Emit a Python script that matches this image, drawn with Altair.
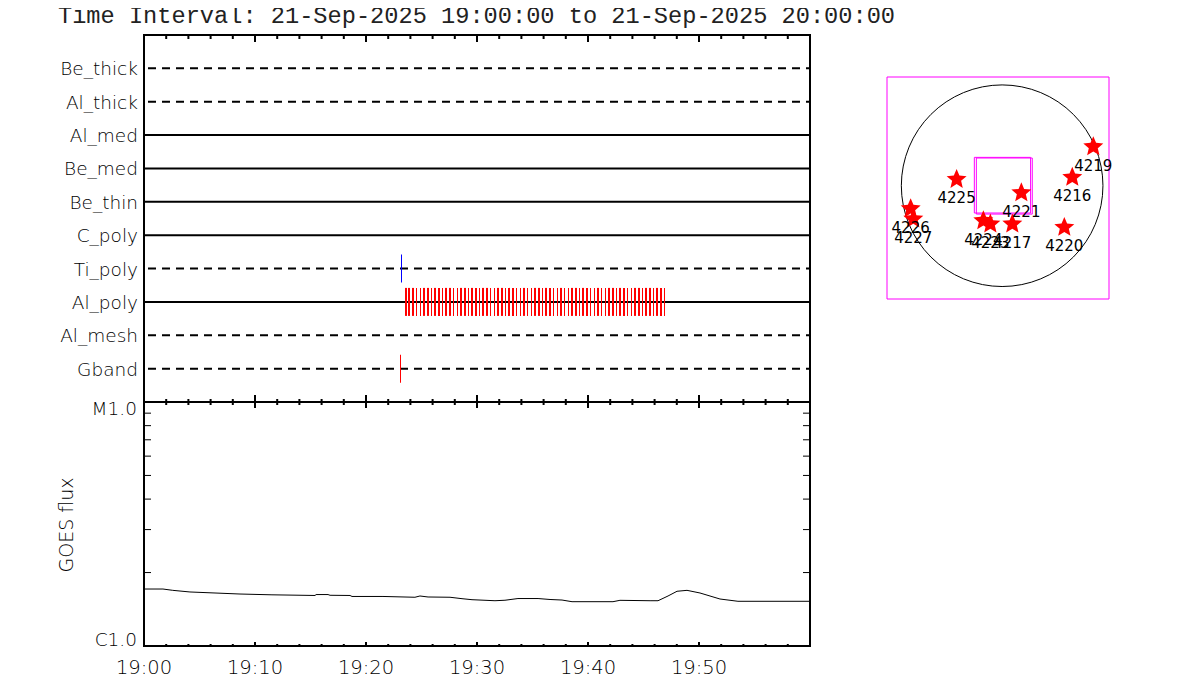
import altair as alt
import pandas as pd

FONT = "DejaVu Sans"
WEIGHT = 200
TITLE_FONT = "Liberation Mono"
TITLE = "Time Interval: 21-Sep-2025 19:00:00 to 21-Sep-2025 20:00:00"
STAR = ("M0,-0.905 L0.265,-0.269 L0.951,-0.214 L0.428,0.234 L0.588,0.904 L0,0.545 "
        "L-0.588,0.904 L-0.428,0.234 L-0.951,-0.214 L-0.265,-0.269 Z")

channels = ["Be_thick", "Al_thick", "Al_med", "Be_med", "Be_thin",
            "C_poly", "Ti_poly", "Al_poly", "Al_mesh", "Gband"]
dashed = ["Be_thick", "Al_thick", "Ti_poly", "Al_mesh", "Gband"]
solid = ["Al_med", "Be_med", "Be_thin", "C_poly", "Al_poly"]

# exposures: start second after 19:00, duration seconds
al_poly_start = [1410.8, 1427.0, 1448.6, 1470.3, 1491.9, 1508.1, 1529.7, 1551.4, 1567.6, 1589.2,
                 1610.8, 1627.0, 1648.6, 1670.3, 1691.9, 1708.1, 1729.7, 1751.4, 1767.6, 1789.2,
                 1810.8, 1827.0, 1848.6, 1870.3, 1891.9, 1908.1, 1929.7, 1951.4, 1967.6, 1989.2,
                 2010.8, 2032.4, 2048.6, 2070.3, 2091.9, 2108.1, 2129.7, 2151.4, 2167.6, 2189.2,
                 2210.8, 2232.4, 2248.6, 2270.3, 2291.9, 2308.1, 2329.7, 2351.4, 2367.6, 2389.2,
                 2410.8, 2432.4, 2448.6, 2470.3, 2491.9, 2508.1, 2529.7, 2551.4, 2567.6, 2589.2,
                 2610.8, 2632.4, 2648.6, 2670.3, 2691.9, 2708.1, 2729.7, 2751.4, 2767.6, 2789.2,
                 2810.8]
al_poly_dur = [10.8, 10.8, 10.8, 5.4, 5.4, 10.8, 10.8, 5.4, 10.8, 10.8,
               5.4, 10.8, 10.8, 5.4, 5.4, 10.8, 10.8, 5.4, 10.8, 10.8,
               5.4, 10.8, 10.8, 5.4, 5.4, 10.8, 10.8, 5.4, 10.8, 10.8,
               5.4, 5.4, 10.8, 5.4, 5.4, 10.8, 10.8, 5.4, 10.8, 10.8,
               5.4, 5.4, 10.8, 5.4, 5.4, 10.8, 10.8, 5.4, 10.8, 10.8,
               5.4, 5.4, 10.8, 5.4, 5.4, 10.8, 10.8, 5.4, 10.8, 10.8,
               5.4, 5.4, 10.8, 10.8, 5.4, 10.8, 10.8, 5.4, 10.8, 10.8,
               5.4]
single_channel = ["Ti_poly", "Gband"]
single_start = [1389.2, 1383.8]
single_dur = [5.4, 5.4]
single_color = ["#0000ff", "#ff0000"]

major_ticks = [0, 10, 20, 30, 40, 50]
time_labels = ["19:00", "19:10", "19:20", "19:30", "19:40", "19:50"]
minor_ticks = [2, 4, 6, 8, 12, 14, 16, 18, 22, 24, 26, 28, 32, 34, 36, 38, 42, 44, 46, 48, 52, 54, 56, 58]
log_ticks = [2e-6, 3e-6, 4e-6, 5e-6, 6e-6, 7e-6, 8e-6, 9e-6]

goes_min = [0, 1.71, 2.59, 4.14, 8.65, 11.53, 15.41, 15.50, 16.58, 16.76, 18.56, 18.74, 21.53, 24.41,
            24.86, 25.59, 27.57, 28.65, 29.55, 31.62, 32.52, 33.69, 35.50, 36.58, 37.66, 38.56,
            42.25, 42.88, 45.59, 46.31, 47.21, 48.02, 48.92, 50.09, 51.89, 53.51, 59.91]
goes_flux = [1.712, 1.712, 1.691, 1.665, 1.633, 1.621, 1.611, 1.625, 1.625, 1.614, 1.611, 1.596, 1.596, 1.584,
             1.603, 1.588, 1.584, 1.563, 1.548, 1.533, 1.540, 1.565, 1.565, 1.551, 1.543, 1.519,
             1.519, 1.539, 1.533, 1.533, 1.603, 1.676, 1.691, 1.649, 1.558, 1.525, 1.525]

ar_num = ["4219", "4216", "4225", "4221", "4226", "4227", "4224", "4223", "4217", "4220"]
ar_x = [859, 661, -429, 181, -862, -837, -177, -111, 96, 586]
ar_y = [377, 88, 69, -57, -207, -304, -320, -352, -352, -383]
fov_x1 = [-262, -243]
fov_x2 = [268, 284]
fov_y1 = [267, 261]
fov_y2 = [-257, -267]

# page pixel positions are chart pixel + 8
xs = alt.Scale(domain=[0, 60], range=[136, 802], nice=False, zero=False)
ch_scale = alt.Scale(type="point", padding=1, domain=channels, range=[27, 394])
ylog = alt.Scale(type="log", domain=[1e-6, 1e-5], range=[638, 394], nice=False)
mx = alt.Scale(domain=[-1085, 1007], range=[879, 1101], nice=False, zero=False)
my = alt.Scale(domain=[-1067, 1024], range=[291, 69], nice=False, zero=False)

X = alt.X("m:Q", scale=xs, axis=None)
X2 = alt.X2("b:Q")
YC = alt.Y("c:N", scale=ch_scale, axis=None)
YL = alt.Y("f:Q", scale=ylog, axis=None)
MX = alt.X("x:Q", scale=mx, axis=None)
MY = alt.Y("y:Q", scale=my, axis=None)


def rules(vals, y1, y2, width=2):
    return alt.Chart(pd.DataFrame({"m": vals})).mark_rule(color="black", strokeWidth=width).encode(
        x=X, y=alt.value(y1), y2=alt.value(y2))


def frame(y1, y2):
    return alt.Chart(pd.DataFrame({"m": [0], "b": [60]})).mark_rect(
        fillOpacity=0, stroke="black", strokeWidth=2).encode(x=X, x2=X2, y=alt.value(y1), y2=alt.value(y2))


rows_solid = alt.Chart(pd.DataFrame({"c": solid, "m": [0] * len(solid), "b": [60] * len(solid)})).mark_rule(
    color="black", strokeWidth=2).encode(x=X, x2=X2, y=YC)
rows_dash = alt.Chart(pd.DataFrame({"c": dashed, "m": [0] * len(dashed), "b": [60] * len(dashed)})).mark_rule(
    color="black", strokeWidth=2, strokeDash=[8, 6], strokeDashOffset=10).encode(x=X, x2=X2, y=YC)

poly = pd.DataFrame({"c": ["Al_poly"] * len(al_poly_start),
                     "m": [s / 60 for s in al_poly_start],
                     "b": [(s + d) / 60 for s, d in zip(al_poly_start, al_poly_dur)]})
poly_bars = alt.Chart(poly).mark_rect(color="#ff0000", height=28).encode(x=X, x2=X2, y=YC)
single = pd.DataFrame({"c": single_channel,
                       "m": [s / 60 for s in single_start],
                       "b": [(s + d) / 60 for s, d in zip(single_start, single_dur)],
                       "col": single_color})
single_bars = alt.Chart(single).mark_rect(height=28).encode(
    x=X, x2=X2, y=YC, color=alt.Color("col:N", scale=None))
row_labels = alt.Chart(pd.DataFrame({"c": channels, "m": [0] * len(channels)})).mark_text(
    font=FONT, fontWeight=WEIGHT, fontSize=18.5, color="black", align="right", baseline="middle", dx=-6, dy=1).encode(
    x=X, y=YC, text="c:N")

goes_line = alt.Chart(pd.DataFrame({"m": goes_min, "f": [v * 1e-6 for v in goes_flux]})).mark_line(
    color="black", strokeWidth=1).encode(x=X, y=YL)
log_df = pd.DataFrame({"f": log_ticks})
log_l = alt.Chart(log_df).mark_rule(color="black", strokeWidth=1).encode(y=YL, x=alt.value(136), x2=alt.value(143))
log_r = alt.Chart(log_df).mark_rule(color="black", strokeWidth=1).encode(y=YL, x=alt.value(795), x2=alt.value(802))
time_text = alt.Chart(pd.DataFrame({"m": major_ticks, "t": time_labels})).mark_text(
    font=FONT, fontWeight=WEIGHT, fontSize=19.5, color="black", baseline="middle").encode(
    x=X, y=alt.value(660), text="t:N")
flux_m = alt.Chart(pd.DataFrame({"m": [0], "f": [1e-5], "t": ["M1.0"]})).mark_text(
    font=FONT, fontWeight=WEIGHT, fontSize=18.5, color="black", align="right", baseline="middle", dx=-7, dy=7).encode(
    x=X, y=YL, text="t:N")
flux_c = alt.Chart(pd.DataFrame({"m": [0], "f": [1e-6], "t": ["C1.0"]})).mark_text(
    font=FONT, fontWeight=WEIGHT, fontSize=18.5, color="black", align="right", baseline="middle", dx=-7, dy=-6).encode(
    x=X, y=YL, text="t:N")
flux_title = alt.Chart(pd.DataFrame({"t": ["GOES flux"]})).mark_text(
    font=FONT, fontWeight=WEIGHT, fontSize=19, color="black", angle=270, baseline="middle").encode(
    x=alt.value(59), y=alt.value(517), text="t:N")
title = alt.Chart(pd.DataFrame({"t": [TITLE]})).mark_text(
    font=TITLE_FONT, fontSize=23.65, color="#222222", align="left", baseline="middle").encode(
    x=alt.value(50), y=alt.value(8), text="t:N")

box = alt.Chart(pd.DataFrame({"x": [-1085], "x2": [1007], "y": [-1067], "y2": [1024]})).mark_rect(
    fillOpacity=0, stroke="#ff00ff", strokeWidth=1).encode(x=MX, x2="x2:Q", y=MY, y2="y2:Q")
disk = alt.Chart(pd.DataFrame({"x": [0], "y": [0]})).mark_point(
    shape="circle", filled=False, color="black", strokeWidth=1, size=40643, opacity=1).encode(x=MX, y=MY)
fov = alt.Chart(pd.DataFrame({"x": fov_x1, "x2": fov_x2, "y": fov_y1, "y2": fov_y2})).mark_rect(
    fillOpacity=0, stroke="#ff00ff", strokeWidth=1).encode(x=MX, x2="x2:Q", y=MY, y2="y2:Q")
stars = alt.Chart(pd.DataFrame({"x": ar_x, "y": ar_y})).mark_point(
    shape=STAR, filled=True, color="#ff0000", size=441, opacity=1).encode(x=MX, y=MY)
ar_labels = alt.Chart(pd.DataFrame({"x": ar_x, "y": ar_y, "n": ar_num})).mark_text(
    font=FONT, fontSize=15, color="black", dy=20).encode(x=MX, y=MY, text="n:N")

chart = alt.layer(
    title, rows_solid, rows_dash, poly_bars, single_bars, row_labels,
    frame(27, 394), rules(major_ticks, 27, 34), rules(minor_ticks, 27, 31),
    rules(major_ticks, 387, 400), rules(minor_ticks, 391, 397),
    goes_line, log_l, log_r, frame(394, 638),
    rules(major_ticks, 634, 638), rules(minor_ticks, 636, 638),
    time_text, flux_m, flux_c, flux_title,
    box, disk, fov, stars, ar_labels,
).resolve_scale(x="independent", y="independent").properties(
    width=1184, height=684, padding=0, autosize=alt.AutoSizeParams(type="none"),
    background="white", view=alt.ViewConfig(strokeOpacity=0),
)
chart.save("out.html", embed_options={"renderer": "svg", "actions": False})
